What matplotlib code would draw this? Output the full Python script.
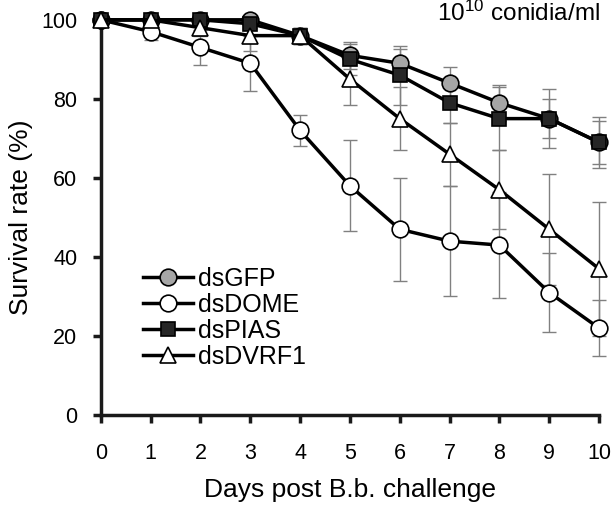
import matplotlib
matplotlib.use('Agg')
import matplotlib.pyplot as plt
import numpy as np

plt.rcParams['font.family'] = ['Liberation Sans', 'DejaVu Sans']
plt.rcParams['mathtext.fontset'] = 'custom'
plt.rcParams['mathtext.rm'] = 'Liberation Sans'

# Survival data (days 0-10)
days = [0, 1, 2, 3, 4, 5, 6, 7, 8, 9, 10]
gfp = [100, 100, 100, 100, 96, 91, 89, 84, 79, 75, 69]
gfp_err = [0, 0, 0, 0, 2, 3.5, 3.5, 4, 4.5, 7.5, 6.5]
dome = [100, 97, 93, 89, 72, 58, 47, 44, 43, 31, 22]
dome_err = [0, 2, 4.5, 7, 4, 11.5, 13, 14, 13.5, 10, 7]
pias = [100, 100, 100, 99, 96, 90, 86, 79, 75, 75, 69]
pias_err = [0, 0, 0, 1, 2, 4, 7.5, 5, 8, 5, 5.5]
dvrf1 = [100, 100, 98, 96, 96, 85, 75, 66, 57, 47, 37]
dvrf1_err = [0, 0, 2, 4, 2, 6.5, 8, 8, 10, 14, 17]

series = [
    ('dsGFP', gfp, gfp_err, 'o', '#a6a6a6'),
    ('dsDOME', dome, dome_err, 'o', 'white'),
    ('dsPIAS', pias, pias_err, 's', '#262626'),
    ('dsDVRF1', dvrf1, dvrf1_err, '^', 'white'),
]

fig = plt.figure(figsize=(6.15, 5.08), dpi=100)
ax = fig.add_axes([0.164, 0.183, 0.81, 0.778])

for label, vals, err, mk, fc in series:
    ax.errorbar(days, vals, yerr=err, fmt='none', ecolor='#808080',
                elinewidth=1, capsize=5, capthick=1, zorder=2, clip_on=False)
for label, vals, err, mk, fc in series:
    ms = 10 if mk == 's' else 12
    ax.plot(days, vals, '-', color='black', lw=2.5, marker=mk, ms=ms,
            markerfacecolor=fc, markeredgecolor='black', markeredgewidth=1.2,
            label=label, zorder=3, clip_on=False)

ax.set_xlim(0, 10)
ax.set_ylim(0, 100)
ax.set_xticks(days)
ax.set_yticks([0, 20, 40, 60, 80, 100])
ax.tick_params(labelsize=15.5, width=2.5, length=6, direction='out', color='#1a1a1a')
ax.tick_params(axis='x', pad=14)
ax.tick_params(axis='y', pad=11)
for side in ['top', 'right']:
    ax.spines[side].set_visible(False)
for side in ['left', 'bottom']:
    ax.spines[side].set_linewidth(2.5)
    ax.spines[side].set_color('#1a1a1a')

ax.set_xlabel('Days post B.b. challenge', fontsize=19, labelpad=10)
ax.set_ylabel('Survival rate (%)', fontsize=19, labelpad=6)

fig.text(0.976, 0.958, r'$\mathrm{10^{10}}$ conidia/ml',
         ha='right', va='baseline', fontsize=17.5)

ax.legend(loc='upper left', bbox_to_anchor=(0.064, 0.4), frameon=False,
          fontsize=18, handlelength=2.0, handletextpad=0.2, labelspacing=0.08,
          borderaxespad=0)

plt.savefig('out.png', dpi=100)
